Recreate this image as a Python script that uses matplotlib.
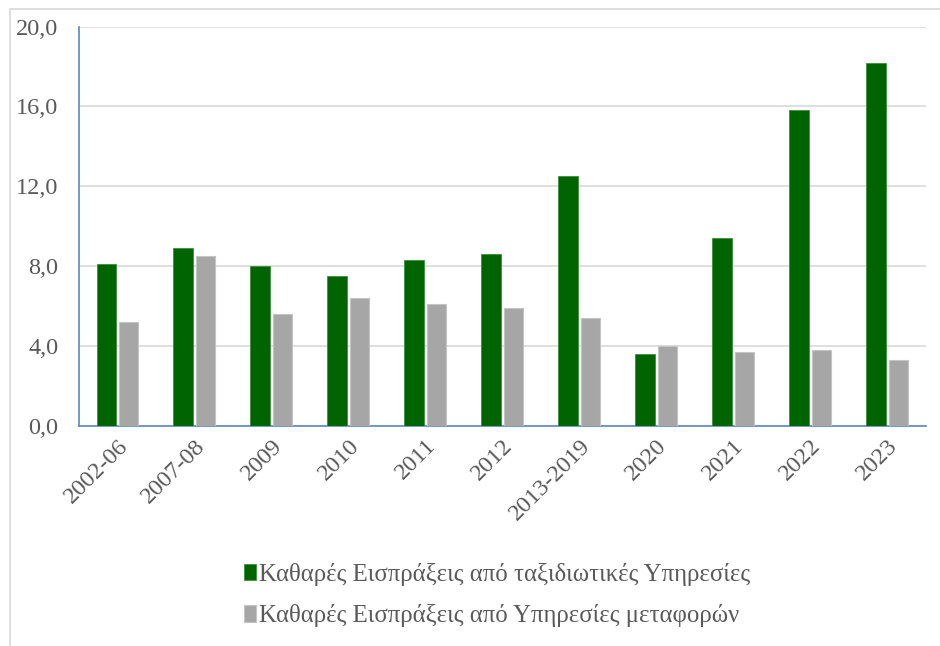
import numpy as np
import matplotlib.pyplot as plt
from matplotlib.patches import Rectangle

plt.rcParams['font.family'] = ['Liberation Serif', 'DejaVu Serif']

periods = ['2002-06', '2007-08', '2009', '2010', '2011', '2012',
           '2013-2019', '2020', '2021', '2022', '2023']
travel = [8.1, 8.9, 8.0, 7.5, 8.3, 8.6, 12.5, 3.6, 9.4, 15.8, 18.2]
transport = [5.2, 8.5, 5.6, 6.4, 6.1, 5.9, 5.4, 4.0, 3.7, 3.8, 3.3]
labels = ['Καθαρές Εισπράξεις από ταξιδιωτικές Υπηρεσίες',
          'Καθαρές Εισπράξεις από Υπηρεσίες μεταφορών']

text_col = '#595959'
axis_col = '#5B86C5'

fig = plt.figure(figsize=(9.4, 6.46), dpi=100)
# light frame around the chart area
fig.patches.append(Rectangle((10 / 940, -0.05), 1.2, 1.05 - 9 / 646,
                             transform=fig.transFigure, fill=False,
                             edgecolor='#D9D9D9', linewidth=1.2))
ax = fig.add_axes([79 / 940, 220.3 / 646, 846.7 / 940, 399 / 646])

x = np.arange(len(periods))
w = 0.253
off = 0.146
ax.bar(x - off, travel, w, color='#006400', edgecolor='#3E8E3E',
       linewidth=0.6, label=labels[0], zorder=3)
ax.bar(x + off, transport, w, color='#A6A6A6', edgecolor='#C4C4C4',
       linewidth=0.8, label=labels[1], zorder=3)

ax.set_xlim(-0.5, len(periods) - 0.5)
ax.set_ylim(0, 20)
yt = np.arange(0, 20.1, 4)
ax.set_yticks(yt)
ax.set_yticklabels([f'{v:.1f}'.replace('.', ',') for v in yt])
ax.set_xticks(x)
ax.set_xticklabels(periods, rotation=45, ha='right', rotation_mode='anchor')
ax.tick_params(axis='both', length=0, labelsize=17.5, colors=text_col)
ax.tick_params(axis='y', pad=15)
ax.tick_params(axis='x', pad=7)
ax.yaxis.grid(True, color='#D9D9D9', linewidth=1.2, zorder=0)
ax.set_axisbelow(True)

for s in ['top', 'right']:
    ax.spines[s].set_visible(False)
for s in ['left', 'bottom']:
    ax.spines[s].set_color(axis_col)
    ax.spines[s].set_linewidth(1.2)

fig.legend(loc='center', bbox_to_anchor=(497 / 940, 1 - 595 / 646),
           ncol=1, frameon=False, fontsize=17.8, handlelength=0.5,
           handleheight=0.65, handletextpad=0.12, labelspacing=0.75,
           labelcolor=text_col)

fig.savefig('out.png', dpi=100)
